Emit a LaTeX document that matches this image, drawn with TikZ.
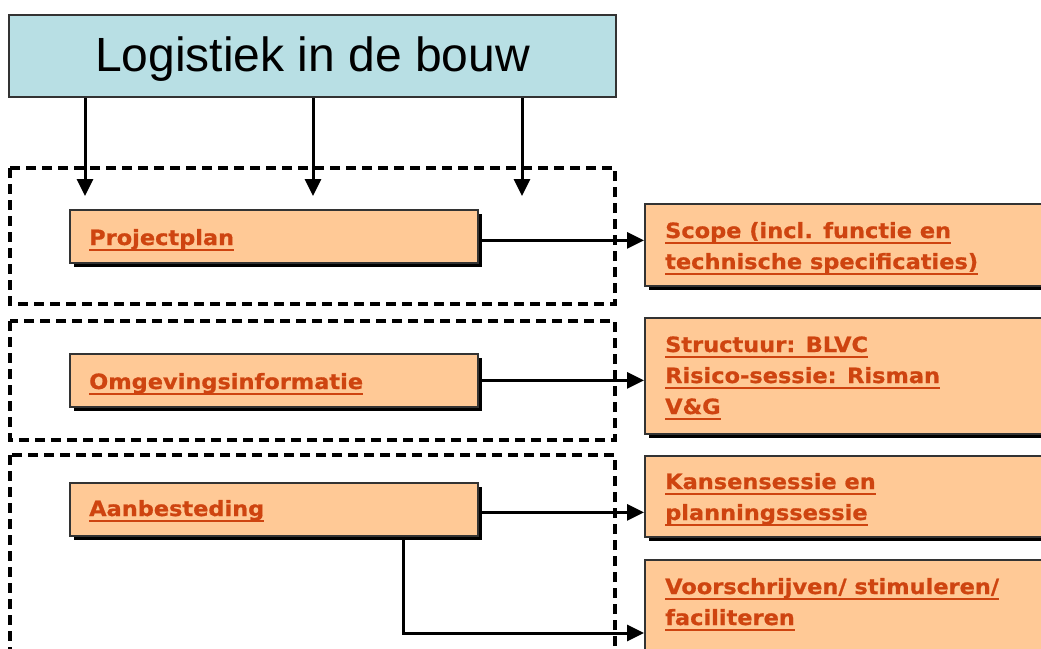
\documentclass[tikz,border=0pt]{standalone}
\usepackage{fontspec}
\setmainfont{Liberation Sans}
\newfontfamily\boxfont[FakeStretch=1.07, BoldFeatures={FakeBold=0.8}]{DejaVu Sans}
\usetikzlibrary{arrows.meta,shadows,calc}
\definecolor{titlefill}{RGB}{184,223,228}
\definecolor{peach}{RGB}{255,201,150}
\definecolor{linkc}{RGB}{206,68,16}
\newsavebox\myulbox
\newcommand\ulc[1]{\sbox\myulbox{#1}\rlap{\rule[-6pt]{\wd\myulbox}{2.3pt}}\usebox\myulbox}
\tikzset{
  titlebox/.style={draw=black!80, line width=2pt, fill=titlefill, inner sep=0pt,
    anchor=north west, minimum width=607pt, minimum height=82pt,
    font=\fontsize{48}{56}\selectfont, text height=38pt, text depth=8pt},
  grp/.style={draw=black, line width=3.5pt, dash pattern=on 10pt off 6pt},
  pbox/.style={draw=black!80, line width=1.8pt, fill=peach, inner sep=0pt,
    anchor=north west,
    drop shadow={shadow xshift=4pt, shadow yshift=-4pt, fill=black, opacity=1}},
  btxt/.style={anchor=base west, inner sep=0pt, text=linkc,
    font=\boxfont\bfseries\fontsize{21}{31}\selectfont},
  arr/.style={draw=black, line width=3pt, -{Triangle[length=17pt,width=16pt]}},
}
\begin{document}
\begin{tikzpicture}[x=1pt,y=-1pt]
\useasboundingbox (0,0) rectangle (1041,648);
\clip (0,0) rectangle (1041,648);

% title
\node[titlebox] (title) at (8,14) {Logistiek in de bouw};

% dashed groups
\draw[grp] (10,168) rectangle (615,304);
\draw[grp] (10,321) rectangle (615,440);
\draw[grp] (10,455) rectangle (615,680);

% left boxes
\node[pbox, minimum width=408pt, minimum height=53pt] (pp) at (69,209) {};
\node[btxt] (ppt) at (89,245) {\ulc{Projectplan}};

\node[pbox, minimum width=408pt, minimum height=53pt] (og) at (69,353) {};
\node[btxt] (ogt) at (89,389) {\ulc{Omgevingsinformatie}};

\node[pbox, minimum width=408pt, minimum height=53pt] (ab) at (69,482) {};
\node[btxt] (abt) at (89,516) {\ulc{Aanbesteding}};

% right boxes
\node[pbox, minimum width=420pt, minimum height=82pt] (sc) at (644,203) {};
\node[btxt] (sct) at (665,238) {\vtop{\hbox{\ulc{Scope (incl. functie en}}\hbox{\ulc{technische specificaties)}}}};

\node[pbox, minimum width=420pt, minimum height=116pt] (st) at (644,317) {};
\node[btxt] (stt) at (665,352) {\vtop{\hbox{\ulc{Structuur: BLVC}}\hbox{\ulc{Risico-sessie: Risman}}\hbox{\ulc{V\&G}}}};

\node[pbox, minimum width=420pt, minimum height=81pt] (ka) at (644,455) {};
\node[btxt] (kat) at (665,489) {\vtop{\hbox{\ulc{Kansensessie en}}\hbox{\ulc{planningssessie}}}};

\node[pbox, minimum width=420pt, minimum height=110pt] (vo) at (644,559) {};
\node[btxt] (vot) at (665,594) {\vtop{\hbox{\ulc{Voorschrijven/ stimuleren/}}\hbox{\ulc{faciliteren}}}};

% arrows from title
\coordinate (t1) at (85,196);
\coordinate (t2) at (313,196);
\coordinate (t3) at (522,196);
\draw[arr] (title.south -| t1) -- (t1);
\draw[arr] (title.south -| t2) -- (t2);
\draw[arr] (title.south -| t3) -- (t3);

% arrows to the right
\draw[arr] ([yshift=-4pt]pp.east) -- ([yshift=-4pt]pp.east -| sc.west);
\draw[arr] (og.east) -- (og.east -| st.west);
\draw[arr] ([yshift=-3pt]ab.east) -- ([yshift=-3pt]ab.east -| ka.west);
\coordinate (elb) at (403,633);
\draw[arr] (ab.south -| elb) |- (vo.west |- elb);
\end{tikzpicture}
\end{document}
